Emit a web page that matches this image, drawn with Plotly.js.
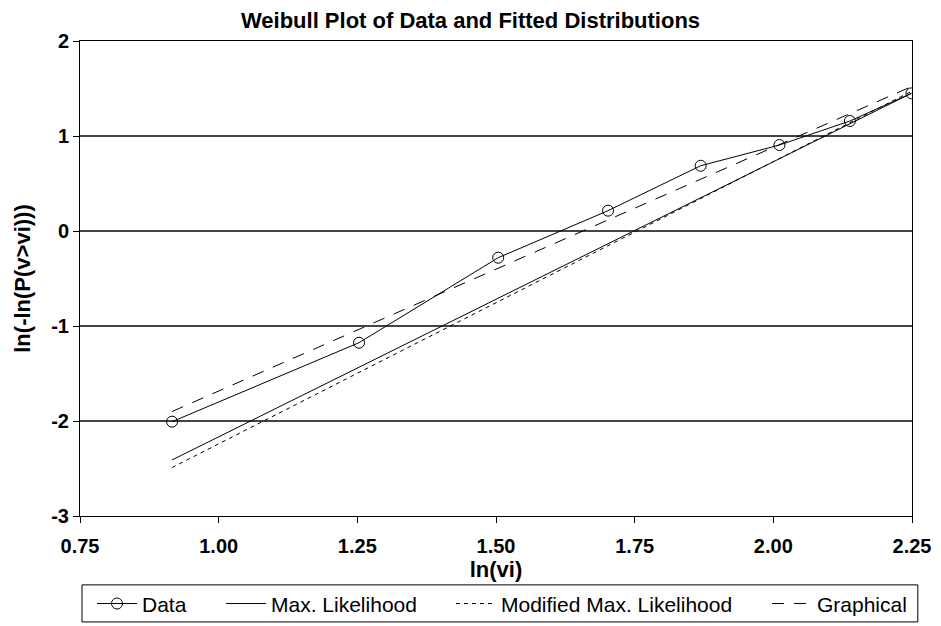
<!DOCTYPE html>
<html>
<head>
<meta charset="utf-8">
<script src="https://cdn.plot.ly/plotly-3.0.1.min.js"></script>
<style>html,body{margin:0;padding:0;background:#fff;}#chart{width:941px;height:626px;}</style>
</head>
<body>
<div id="chart"></div>
<script>
// Data
var dataX = [0.916, 1.253, 1.504, 1.702, 1.869, 2.011, 2.138, 2.249];
var dataY = [-2.007, -1.176, -0.281, 0.214, 0.687, 0.905, 1.158, 1.449];

var mlX = [0.916, 2.249];
var mlY = [-2.41, 1.45];

var mmlX = [0.916, 2.249];
var mmlY = [-2.49, 1.47];

var graphX = [0.916, 2.249];
var graphY = [-1.90, 1.52];

var seriesNames = ["Data", "Max. Likelihood", "Modified Max. Likelihood", "Graphical"];

var xTickVals = [0.75, 1.0, 1.25, 1.5, 1.75, 2.0, 2.25];
var xTickText = ["0.75", "1.00", "1.25", "1.50", "1.75", "2.00", "2.25"];
var yTickVals = [-3, -2, -1, 0, 1, 2];
var yTickText = ["-3", "-2", "-1", "0", "1", "2"];

var FONT = "Liberation Sans, Arial, sans-serif";

var traces = [
  {x: dataX, y: dataY, name: seriesNames[0], mode: "lines+markers", type: "scatter", legend: "legend",
   line: {color: "#000", width: 1},
   marker: {symbol: "circle-open", size: 11, color: "#000", line: {width: 1, color: "#000"}}},
  {x: mlX, y: mlY, name: seriesNames[1], mode: "lines", type: "scatter", legend: "legend2",
   line: {color: "#000", width: 1}},
  {x: mmlX, y: mmlY, name: seriesNames[2], mode: "lines", type: "scatter", legend: "legend3",
   line: {color: "#000", width: 1, dash: "4px,4px"}},
  {x: graphX, y: graphY, name: seriesNames[3], mode: "lines", type: "scatter", legend: "legend4",
   line: {color: "#000", width: 1, dash: "12px,10px"}}
];

function leg(px) {
  return {
    orientation: "h", x: (px - 80) / 832, xanchor: "left", y: -0.185, yanchor: "middle",
    borderwidth: 0, bgcolor: "rgba(0,0,0,0)",
    font: {family: FONT, size: 21, color: "#000"},
    itemwidth: 40
  };
}

var layout = {
  width: 941, height: 626,
  paper_bgcolor: "#fff", plot_bgcolor: "#fff",
  margin: {l: 80, r: 29, t: 41, b: 110, autoexpand: false},
  font: {family: FONT, color: "#000"},
  title: {text: "<b>Weibull Plot of Data and Fitted Distributions</b>", x: 0.5, xref: "container", y: 17, yref: "container", yanchor: "middle",
          font: {family: FONT, size: 22, color: "#000"}},
  xaxis: {
    range: [0.75, 2.25], tickvals: xTickVals, ticktext: xTickText,
    ticks: "outside", ticklen: 6, tickcolor: "#000", tickwidth: 1,
    showline: true, linecolor: "#000", linewidth: 1, mirror: true,
    showgrid: false, zeroline: false, ticklabelstandoff: 6, automargin: false,
    tickfont: {family: FONT, size: 20, color: "#000", weight: "bold"},
    title: {text: "<b>ln(vi)</b>", font: {family: FONT, size: 22, color: "#000"}, standoff: 4}
  },
  yaxis: {
    range: [-3, 2], tickvals: yTickVals, ticktext: yTickText,
    ticks: "outside", ticklen: 6, tickcolor: "#000", tickwidth: 1,
    showline: true, linecolor: "#000", linewidth: 1, mirror: true, automargin: false,
    showgrid: true, gridcolor: "#444", gridwidth: 1.5, zeroline: false,
    tickfont: {family: FONT, size: 20, color: "#000", weight: "bold"},
    title: {text: "<b>ln(-ln(P(v>vi)))</b>", font: {family: FONT, size: 22, color: "#000"}, standoff: 14}
  },
  showlegend: true,
  legend: leg(92),
  legend2: leg(221),
  legend3: leg(451),
  legend4: leg(767),
  shapes: [
    {type: "rect", xref: "paper", yref: "paper", x0: 0.0024, x1: 1.007, y0: -0.145, y1: -0.223,
     line: {color: "#000", width: 1}, fillcolor: "rgba(0,0,0,0)", layer: "below"}
  ]
};

Plotly.newPlot("chart", traces, layout, {displayModeBar: false, staticPlot: true});
</script>
</body>
</html>
